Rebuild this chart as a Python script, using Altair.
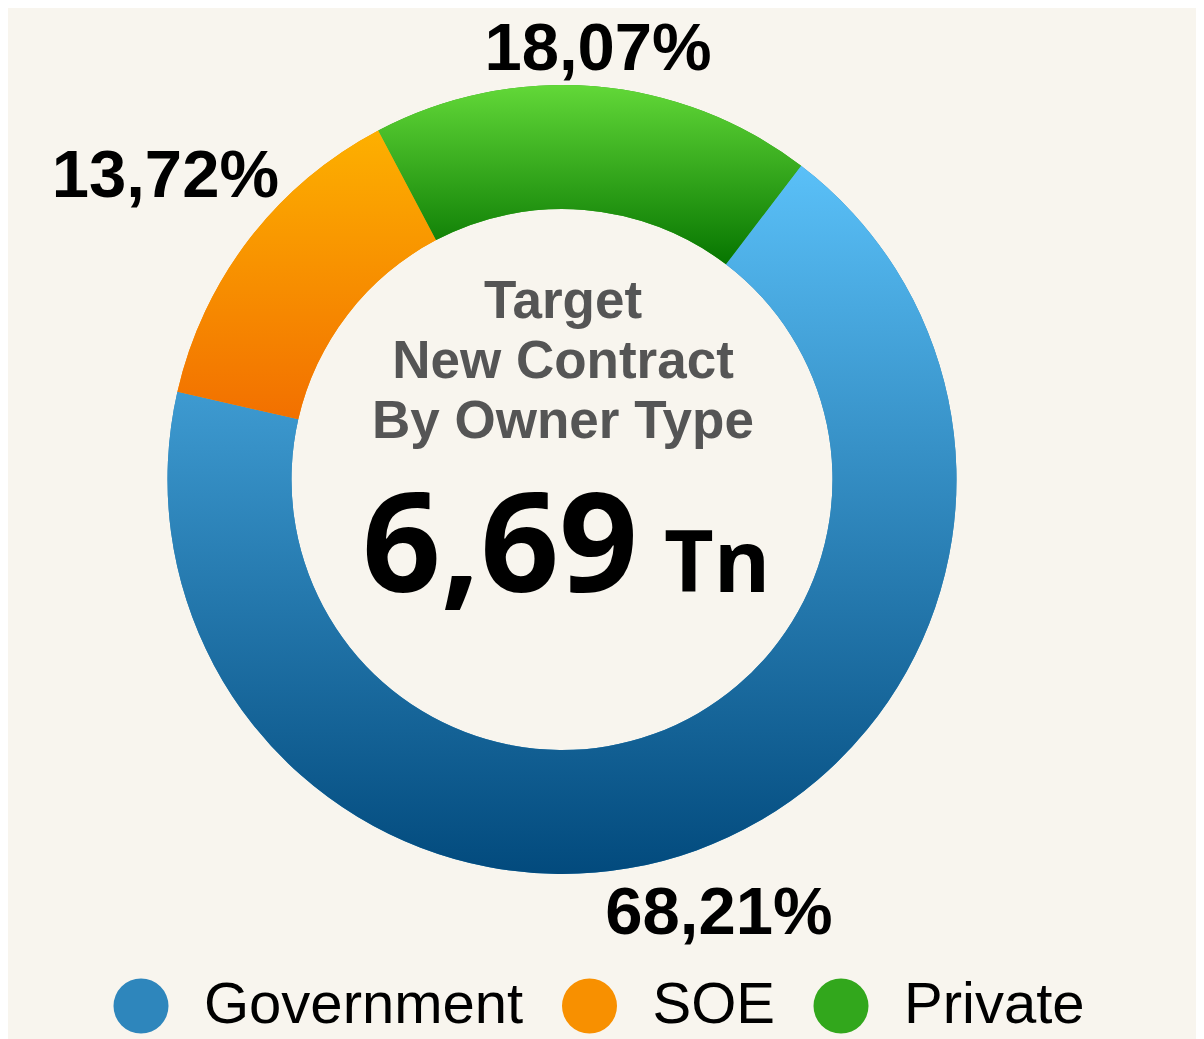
import math
import altair as alt
import pandas as pd

# ---- data ----
categories = ["Government", "SOE", "Private"]
shares = [68.21, 13.72, 18.07]
share_labels = ["68,21%", "13,72%", "18,07%"]
title_lines = ["Target", "New Contract", "By Owner Type"]
total_text = ["6,69"]
unit_text = ["Tn"]

# ---- styling ----
top_colors = ["#5AC0F8", "#FDB000", "#62D838"]
bottom_colors = ["#024A7D", "#F27000", "#067500"]
mid_colors = ["#2E86BC", "#F89000", "#32A71C"]
BG = "#F8F5EE"
START = math.radians(37.3)
R_OUT, R_IN = 394.5, 270.5


def grad(top, bottom):
    return {
        "gradient": "linear",
        "x1": 0, "y1": 0, "x2": 0, "y2": 1,
        "stops": [{"offset": 0, "color": top}, {"offset": 1, "color": bottom}],
    }


df = pd.DataFrame({
    "cat": categories,
    "v": shares,
    "label": share_labels,
    "idx": list(range(len(categories))),
})

theta_scale = alt.Scale(domain=[0, 100], range=[START, START + 2 * math.pi])

base = alt.Chart(df).encode(
    theta=alt.Theta("v:Q", stack=True, scale=theta_scale),
    order=alt.Order("idx:Q"),
)

solid = base.mark_arc(radius=R_OUT, radius2=R_IN).encode(
    fill=alt.Fill(
        "cat:N",
        scale=alt.Scale(domain=categories, range=mid_colors),
        legend=alt.Legend(
            title=None,
            orient="none",
            legendX=104,
            legendY=969,
            direction="horizontal",
            symbolType="circle",
            symbolSize=3025,
            symbolStrokeWidth=0,
            symbolOpacity=1,
            labelFont="Liberation Sans",
            labelFontSize=58,
            labelColor="black",
            labelOffset=34,
            columnPadding=36.5,
            padding=0,
            labelLimit=800,
        ),
    )
)

gradient_fill = alt.FillValue(
    value=grad(top_colors[2], bottom_colors[2]),
    condition=[
        {"test": f"datum.cat === '{categories[0]}'", "value": grad(top_colors[0], bottom_colors[0])},
        {"test": f"datum.cat === '{categories[1]}'", "value": grad(top_colors[1], bottom_colors[1])},
    ],
)

gradient = base.mark_arc(radius=R_OUT, radius2=R_IN).encode(fill=gradient_fill)

# labels: placed just outside the ring, pushed out by half the text box
labels = (
    alt.Chart(df)
    .transform_window(cum="sum(v)", sort=[alt.SortField("idx")])
    .transform_calculate(
        c="datum.cum - datum.v / 2",
        mid=f"{START} + (datum.cum - datum.v / 2) / 100 * 2 * PI",
        r="390 + abs(sin(datum.mid)) * 113 + abs(cos(datum.mid)) * 34",
    )
    .mark_text(font="Liberation Sans", fontWeight="bold", fontSize=67,
               color="black", align="center", baseline="middle", dy=2)
    .encode(
        theta=alt.Theta("c:Q", stack=None, scale=theta_scale),
        radius=alt.Radius("r:Q", scale=None),
        text="label:N",
    )
)

one = pd.DataFrame({"k": [0]})

title_text = alt.Chart(one).mark_text(
    font="Liberation Sans", fontWeight="bold", fontSize=53, color="#555555",
    align="center", baseline="alphabetic", lineHeight=60, dx=1, dy=-161.5,
).encode(text=alt.value(title_lines))

total = alt.Chart(one).mark_text(
    font="Open Sans", fontWeight="bold", fontSize=138, color="black",
    align="right", baseline="alphabetic", dx=76, dy=112,
).encode(text=alt.value(total_text[0]))

unit = alt.Chart(one).mark_text(
    font="Open Sans", fontWeight="bold", fontSize=86, color="black",
    align="left", baseline="alphabetic", dx=102, dy=112,
).encode(text=alt.value(unit_text[0]))

chart = (
    alt.layer(solid, gradient, labels, title_text, total, unit)
    .properties(
        width=1108,
        height=943,
        autosize="none",
        padding={"left": 0, "top": 0, "right": 80, "bottom": 88},
        background=BG,
    )
    .configure_view(stroke=None)
)

chart.save("out.html", embed_options={"renderer": "svg", "actions": False})
